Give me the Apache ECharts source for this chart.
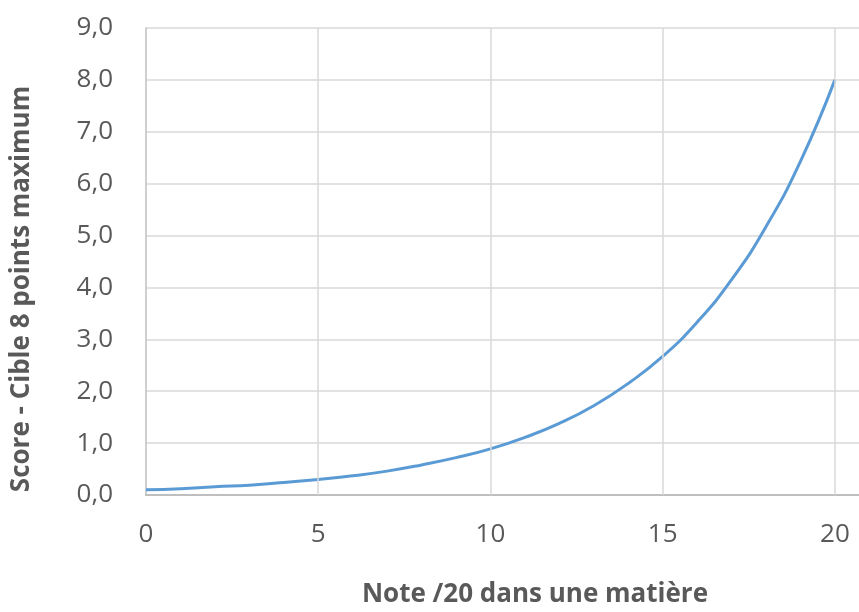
<!DOCTYPE html>
<html>
<head>
<meta charset="utf-8">
<script src="https://cdn.jsdelivr.net/npm/echarts@6/dist/echarts.min.js"></script>
<style>
  html, body { margin: 0; padding: 0; background: #fff; }
  #chart { width: 859px; height: 612px; }
</style>
</head>
<body>
<div id="chart"></div>
<script>
// note /20
var notes = [0, 1, 2, 3, 4, 5, 6, 7, 8, 9, 10, 11, 12, 13, 14, 15, 16, 17, 18, 19, 20];
// score
var scores = [0.10, 0.12, 0.16, 0.19, 0.24, 0.30, 0.37, 0.46, 0.58, 0.72, 0.89,
  1.11, 1.38, 1.72, 2.15, 2.67, 3.33, 4.15, 5.17, 6.43, 8.00];
var xTicks = [5, 10, 15, 20];
var xTitle = 'Note /20 dans une matière';
var yTitle = 'Score - Cible 8 points maximum';

var labelColor = '#595959';
var font = '"Open Sans", "DejaVu Sans", sans-serif';

var myChart = echarts.init(document.getElementById('chart'));
myChart.setOption({
  animation: false,
  grid: {
    show: false,
    outerBoundsMode: 'none',
    left: 146,
    right: 0,
    top: 28,
    bottom: 117
  },
  xAxis: {
    type: 'value',
    min: 0,
    max: 20.7,
    interval: 5,
    axisLine: {
      lineStyle: { color: '#bfbfbf', width: 2 }
    },
    axisTick: { show: false },
    axisLabel: {
      color: labelColor,
      fontFamily: font,
      fontSize: 26,
      margin: 27,
      showMaxLabel: false,
      formatter: function (v) {
        return v % 5 === 0 ? String(v) : '';
      }
    },
    splitLine: { show: false }
  },
  yAxis: {
    type: 'value',
    min: 0,
    max: 9,
    interval: 1,
    axisLine: {
      show: true,
      lineStyle: { color: '#bfbfbf', width: 1.5 }
    },
    axisTick: { show: false },
    axisLabel: {
      color: labelColor,
      fontFamily: font,
      fontSize: 26,
      margin: 33,
      formatter: function (v) {
        return v.toFixed(1).replace('.', ',');
      }
    },
    splitLine: {
      lineStyle: { color: '#d9d9d9', width: 1.5 }
    }
  },
  graphic: [
    {
      type: 'text',
      x: 535,
      y: 595,
      style: {
        text: xTitle,
        fill: labelColor,
        font: 'bold 26px ' + font,
        textAlign: 'center',
        textVerticalAlign: 'middle'
      }
    },
    {
      type: 'text',
      x: 22,
      y: 289,
      rotation: Math.PI / 2,
      style: {
        text: yTitle,
        fill: labelColor,
        font: 'bold 26px ' + font,
        textAlign: 'center',
        textVerticalAlign: 'middle'
      }
    }
  ],
  series: [
    {
      type: 'line',
      data: [],
      z: 1,
      silent: true,
      markLine: {
        silent: true,
        symbol: 'none',
        label: { show: false },
        lineStyle: { color: '#d9d9d9', width: 1.5, type: 'solid' },
        data: xTicks.map(function (t) { return { xAxis: t }; })
      }
    },
    {
      type: 'line',
      z: 3,
      smooth: true,
      symbol: 'none',
      data: notes.map(function (n, i) { return [n, scores[i]]; }),
      lineStyle: { color: '#5b9bd5', width: 3 }
    }
  ]
});
</script>
</body>
</html>
